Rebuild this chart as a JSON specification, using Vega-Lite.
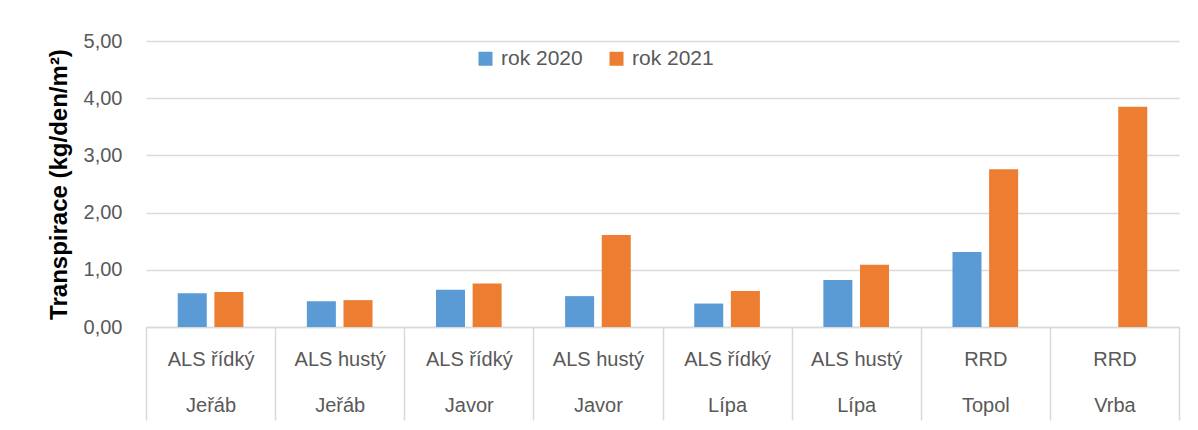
{
  "$schema": "https://vega.github.io/schema/vega-lite/v6.json",
  "width": 1033,
  "height": 286,
  "autosize": {"type": "none"},
  "padding": {"left": 146, "top": 41, "right": 19, "bottom": 103},
  "background": "white",
  "config": {"view": {"stroke": null}, "font": "Liberation Sans"},
  "data": {
    "values": [
      {"kategorie": "ALS řídký|Jeřáb", "rok": "rok 2020", "hodnota": 0.59},
      {"kategorie": "ALS řídký|Jeřáb", "rok": "rok 2021", "hodnota": 0.61},
      {"kategorie": "ALS hustý|Jeřáb", "rok": "rok 2020", "hodnota": 0.45},
      {"kategorie": "ALS hustý|Jeřáb", "rok": "rok 2021", "hodnota": 0.47},
      {"kategorie": "ALS řídký|Javor", "rok": "rok 2020", "hodnota": 0.65},
      {"kategorie": "ALS řídký|Javor", "rok": "rok 2021", "hodnota": 0.76},
      {"kategorie": "ALS hustý|Javor", "rok": "rok 2020", "hodnota": 0.54},
      {"kategorie": "ALS hustý|Javor", "rok": "rok 2021", "hodnota": 1.61},
      {"kategorie": "ALS řídký|Lípa", "rok": "rok 2020", "hodnota": 0.41},
      {"kategorie": "ALS řídký|Lípa", "rok": "rok 2021", "hodnota": 0.63},
      {"kategorie": "ALS hustý|Lípa", "rok": "rok 2020", "hodnota": 0.82},
      {"kategorie": "ALS hustý|Lípa", "rok": "rok 2021", "hodnota": 1.09},
      {"kategorie": "RRD|Topol", "rok": "rok 2020", "hodnota": 1.31},
      {"kategorie": "RRD|Topol", "rok": "rok 2021", "hodnota": 2.76},
      {"kategorie": "RRD|Vrba", "rok": "rok 2021", "hodnota": 3.85}
    ]
  },
  "mark": {"type": "bar"},
  "encoding": {
    "x": {
      "field": "kategorie",
      "type": "nominal",
      "sort": null,
      "scale": {"paddingInner": 0, "paddingOuter": 0},
      "axis": {
        "title": null,
        "labelAngle": 0,
        "labelExpr": "split(datum.label, '|')",
        "tickBand": "extent",
        "tickSize": 93,
        "tickColor": "#d9d9d9",
        "tickWidth": 1.5,
        "domainColor": "#d9d9d9",
        "domainWidth": 1.5,
        "labelFont": "Liberation Sans",
        "labelFontSize": 20,
        "labelColor": "#595959",
        "labelLineHeight": 46,
        "labelBaseline": "middle",
        "labelPadding": -61,
        "labelLimit": 0
      }
    },
    "xOffset": {
      "field": "rok",
      "type": "nominal",
      "scale": {"domain": ["rok 2020", "rok 2021"], "paddingInner": 0.208, "paddingOuter": 0.866}
    },
    "y": {
      "field": "hodnota",
      "type": "quantitative",
      "scale": {"domain": [0, 5]},
      "axis": {
        "values": [0, 1, 2, 3, 4, 5],
        "labelExpr": "replace(format(datum.value, '.2f'), '.', ',')",
        "title": "Transpirace (kg/den/m²)",
        "titleFont": "Liberation Sans",
        "titleFontSize": 24,
        "titleFontWeight": "bold",
        "titleColor": "#000000",
        "titleX": -87,
        "titleY": 143,
        "titleAlign": "center",
        "titleBaseline": "middle",
        "domain": false,
        "ticks": false,
        "grid": true,
        "gridColor": "#d9d9d9",
        "gridWidth": 1.5,
        "labelFont": "Liberation Sans",
        "labelFontSize": 20,
        "labelColor": "#595959",
        "labelPadding": 24
      }
    },
    "color": {
      "field": "rok",
      "type": "nominal",
      "scale": {"domain": ["rok 2020", "rok 2021"], "range": ["#5B9BD5", "#ED7D31"]},
      "legend": {
        "title": null,
        "orient": "none",
        "legendX": 329,
        "legendY": 7,
        "direction": "horizontal",
        "symbolType": "square",
        "symbolSize": 196,
        "symbolStrokeWidth": 0,
        "labelFont": "Liberation Sans",
        "labelFontSize": 21,
        "labelColor": "#595959",
        "labelOffset": 5,
        "columnPadding": 23
      }
    }
  }
}
